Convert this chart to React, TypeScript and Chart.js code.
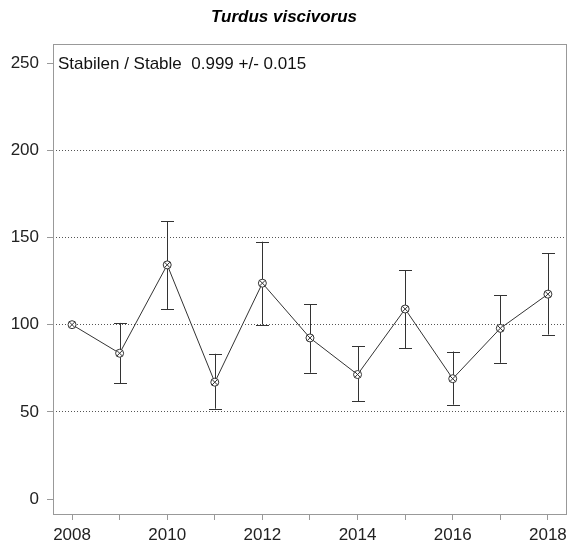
import React, { useEffect, useRef } from "react";
import { Chart, registerables } from "chart.js";

Chart.register(...registerables);

const TITLE = "Turdus viscivorus";
const NOTE = "Stabilen / Stable  0.999 +/- 0.015";
const years = [2008, 2009, 2010, 2011, 2012, 2013, 2014, 2015, 2016, 2017, 2018];
const indexValues = [100, 83.6, 134.3, 67, 123.8, 92.4, 71.4, 109, 69, 97.9, 117.5];
const lowerValues = [100, 66.5, 109, 51.8, 100, 72.4, 56.2, 86.5, 54.1, 78.1, 94.3];
const upperValues = [100, 101, 159.4, 83.3, 147.6, 111.8, 87.6, 131.2, 84.6, 116.8, 141];
const yTicks = [0, 50, 100, 150, 200, 250];
const gridValues = [50, 100, 150, 200];
const xLabelYears = [2008, 2010, 2012, 2014, 2016, 2018];

const FONT = "'Liberation Sans', Arial, sans-serif";

const errorBarPlugin = {
  id: "errorBars",
  beforeDatasetsDraw(chart: any) {
    const { ctx, scales } = chart;
    const xs = scales.x;
    const ys = scales.y;
    ctx.save();
    ctx.strokeStyle = "#333";
    ctx.lineWidth = 1;
    for (let i = 0; i < years.length; i++) {
      if (upperValues[i] === lowerValues[i]) continue;
      const x = Math.round(xs.getPixelForValue(years[i])) + 0.5;
      const yl = ys.getPixelForValue(lowerValues[i]);
      const yu = ys.getPixelForValue(upperValues[i]);
      const cap = 6.5;
      ctx.beginPath();
      ctx.moveTo(x, yl);
      ctx.lineTo(x, yu);
      ctx.moveTo(x - cap, Math.round(yl) + 0.5);
      ctx.lineTo(x + cap, Math.round(yl) + 0.5);
      ctx.moveTo(x - cap, Math.round(yu) + 0.5);
      ctx.lineTo(x + cap, Math.round(yu) + 0.5);
      ctx.stroke();
    }
    ctx.restore();
  },
};

const boxPlugin = {
  id: "boxAndNote",
  afterDraw(chart: any) {
    const { ctx, chartArea, scales } = chart;
    ctx.save();
    ctx.strokeStyle = "#999";
    ctx.lineWidth = 1;
    ctx.strokeRect(
      Math.round(chartArea.left) + 0.5,
      Math.round(chartArea.top) + 0.5,
      Math.round(chartArea.right - chartArea.left) - 1,
      Math.round(chartArea.bottom - chartArea.top)
    );
    ctx.fillStyle = "#111";
    ctx.font = `17px ${FONT}`;
    ctx.textBaseline = "middle";
    ctx.textAlign = "left";
    ctx.fillText(NOTE, chartArea.left + 5, scales.y.getPixelForValue(250) + 1);
    ctx.restore();
  },
};

export default function App() {
  const ref = useRef<HTMLCanvasElement | null>(null);
  useEffect(() => {
    if (!ref.current) return;
    const points = years.map((y, i) => ({ x: y, y: indexValues[i] }));
    const chart = new Chart(ref.current, {
      type: "line",
      data: {
        datasets: [
          {
            data: points,
            showLine: false,
            pointStyle: "crossRot",
            pointRadius: 4,
            pointBorderWidth: 1,
            pointBorderColor: "#333",
            borderColor: "#333",
          },
          {
            data: points,
            borderColor: "#333",
            borderWidth: 1,
            pointStyle: "circle",
            pointRadius: 4,
            pointBorderWidth: 1,
            pointBorderColor: "#333",
            pointBackgroundColor: "#fff",
            tension: 0,
          },
        ],
      },
      options: {
        responsive: false,
        animation: false,
        layout: { padding: { left: 0, right: 4, top: 0, bottom: 0 } },
        plugins: {
          legend: { display: false },
          tooltip: { enabled: false },
          title: {
            display: true,
            text: TITLE,
            color: "#000",
            font: { family: FONT, size: 17, weight: "bold", style: "italic", lineHeight: 1.2 },
            padding: { top: 7, bottom: 16.6 },
          },
        },
        scales: {
          x: {
            type: "linear",
            min: 2007.6,
            max: 2018.4,
            afterBuildTicks: (scale: any) => {
              scale.ticks = years.map((v) => ({ value: v }));
            },
            afterFit: (scale: any) => {
              scale.height = 30;
            },
            ticks: {
              autoSkip: false,
              maxRotation: 0,
              padding: 5,
              color: "#222",
              font: { family: FONT, size: 17 },
              callback: (v: any) => (xLabelYears.includes(Number(v)) ? String(v) : ""),
            },
            grid: {
              drawOnChartArea: false,
              drawTicks: true,
              tickLength: 6,
              tickColor: "#999",
            },
            border: { display: false },
          },
          y: {
            type: "linear",
            min: -8.6,
            max: 261,
            afterBuildTicks: (scale: any) => {
              scale.ticks = yTicks.map((v) => ({ value: v }));
            },
            afterFit: (scale: any) => {
              scale.width = 53;
            },
            ticks: {
              padding: 8,
              color: "#222",
              font: { family: FONT, size: 17 },
              callback: (v: any) => String(v),
            },
            grid: {
              drawOnChartArea: true,
              drawTicks: true,
              tickLength: 6,
              tickColor: "#999",
              tickBorderDash: [],
              color: (c: any) =>
                c.tick && gridValues.includes(c.tick.value) ? "#555" : "rgba(0,0,0,0)",
              lineWidth: 1,
            },
            border: { display: false, dash: [1, 2] },
          },
        },
      } as any,
      plugins: [errorBarPlugin, boxPlugin],
    });
    return () => chart.destroy();
  }, []);
  return (
    <div style={{ position: "fixed", left: 0, top: 0, width: 572, height: 544, background: "#fff" }}>
      <canvas ref={ref} width={572} height={544} style={{ display: "block" }} />
    </div>
  );
}
